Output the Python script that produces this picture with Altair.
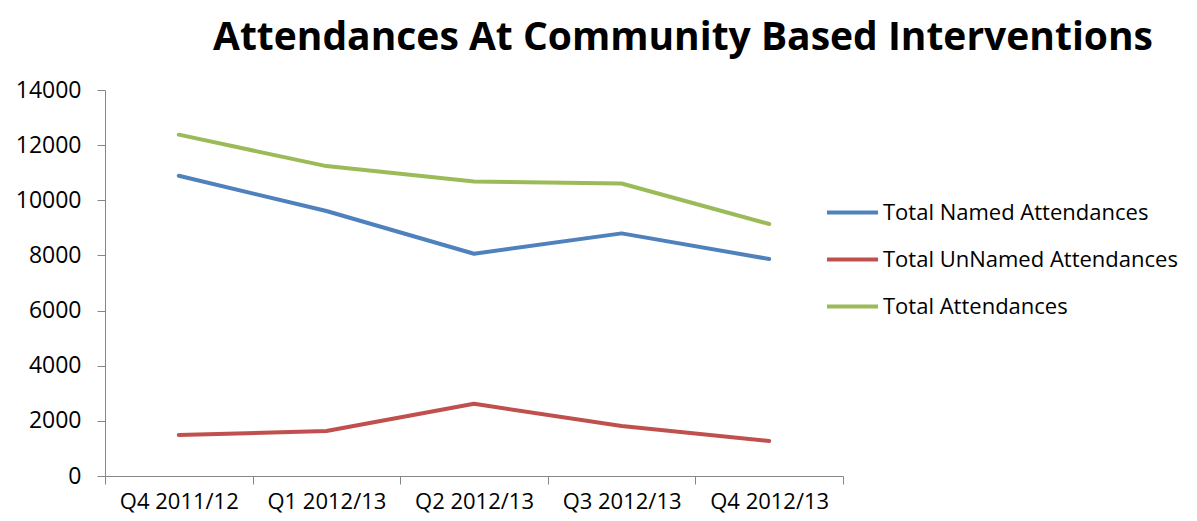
import altair as alt
import pandas as pd

quarters = ["Q4 2011/12", "Q1 2012/13", "Q2 2012/13", "Q3 2012/13", "Q4 2012/13"]
named = [10890, 9610, 8060, 8800, 7870]
unnamed = [1490, 1630, 2620, 1810, 1270]
total = [12380, 11240, 10680, 10610, 9140]
series_names = ["Total Named Attendances", "Total UnNamed Attendances", "Total Attendances"]
colors = ["#4F81BD", "#C0504D", "#9BBB59"]

rows = []
for name, vals in zip(series_names, [named, unnamed, total]):
    for q, v in zip(quarters, vals):
        rows.append({"Quarter": q, "Series": name, "Value": v})
df = pd.DataFrame(rows)

FONT = "Open Sans"

chart = alt.Chart(df).mark_line(strokeWidth=4, interpolate="linear", strokeCap="round",
                                strokeJoin="round").encode(
    x=alt.X("Quarter:N", sort=quarters, bandPosition=0.5,
            scale=alt.Scale(type="band", paddingInner=0, paddingOuter=0),
            axis=alt.Axis(title=None, labelAngle=0, tickBand="extent", grid=False,
                          domainColor="#868686", tickColor="#868686", tickSize=8,
                          labelFontSize=22, labelColor="#000000", labelFont=FONT,
                          labelPadding=7)),
    y=alt.Y("Value:Q", scale=alt.Scale(domain=[0, 14000]),
            axis=alt.Axis(title=None, values=list(range(0, 14001, 2000)), grid=False,
                          format="d",
                          domainColor="#868686", tickColor="#868686", tickSize=8,
                          labelFontSize=23, labelColor="#000000", labelFont=FONT,
                          labelPadding=16)),
    color=alt.Color("Series:N", sort=series_names,
                    scale=alt.Scale(domain=series_names, range=colors),
                    legend=alt.Legend(title=None, orient="none", legendX=720, legendY=95,
                                      symbolType="stroke", symbolSize=2601,
                                      symbolStrokeWidth=4, labelFontSize=22,
                                      labelFont=FONT, labelColor="#000000",
                                      labelOffset=3, rowPadding=8, labelLimit=400)),
).properties(
    width=738, height=386,
    title=alt.Title("Attendances At Community Based Interventions", anchor="start",
                    frame="group", dx=108, offset=21, fontSize=39, fontWeight="bold",
                    font=FONT, color="#000000"),
    autosize=alt.AutoSizeParams(type="none"),
    padding={"left": 97, "top": 82, "right": 346, "bottom": 37},
).configure_view(stroke=None)

chart.save("out.html", embed_options={"renderer": "svg", "actions": False})
